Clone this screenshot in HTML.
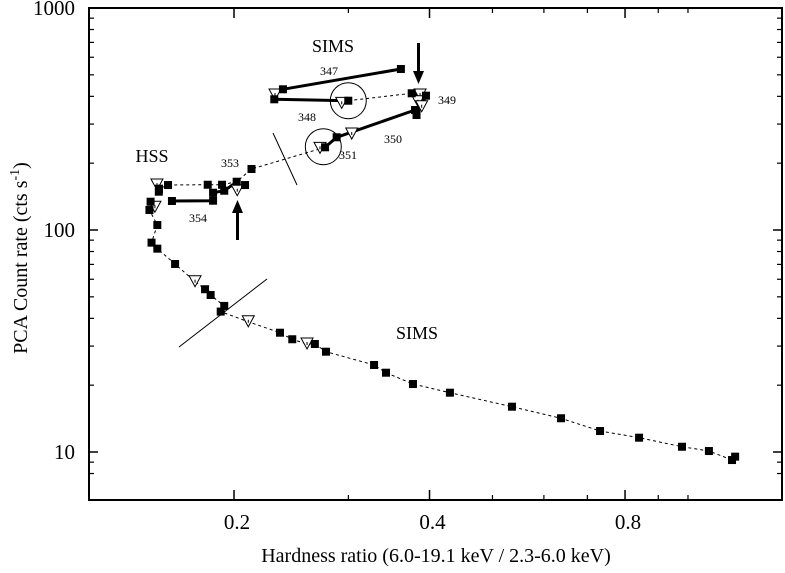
<!DOCTYPE html>
<html><head><meta charset="utf-8"><style>
html,body{margin:0;padding:0;background:#fff;}
svg{display:block;font-family:"Liberation Serif",serif;}
</style></head><body>
<svg id="chart" width="785" height="573" viewBox="0 0 785 573" xmlns="http://www.w3.org/2000/svg"></svg>
<script>
const yTickValues=[10,100,1000];
const yTickLabels=["10","100","1000"];
const xTickValues=[0.2,0.4,0.8];
const xTickLabels=["0.2","0.4","0.8"];
const yMinor=[8,9,20,30,40,50,60,70,80,90,200,300,400,500,600,700,800,900];
const xMinor=[0.3,0.5,0.6,0.7,0.9,1.0];
const mainPathX=[0.2762,0.2128,0.2019,0.1917,0.1822,0.1583,0.1533,0.1532,0.1488,0.1482,0.1524,0.1493,0.1524,0.1623,0.1742,0.1805,0.1841,0.1932,0.1908,0.2104,0.2354,0.2459,0.2591,0.2664,0.2771,0.3286,0.3428,0.3772,0.430,0.5358,0.6376,0.7322,0.8408,0.979,1.077,1.169,1.182];
const mainPathY=[235.8,188.3,165.0,159.9,159.9,159.4,153.5,148.8,134.1,123.1,105.3,87.7,82.4,70.3,58.5,54.1,50.95,45.5,42.9,38.6,34.46,32.2,30.65,30.65,28.3,24.66,22.76,20.24,18.5,16.0,14.19,12.43,11.6,10.56,10.1,9.2,9.53];
const dot348X=[0.2999,0.3755];
const dot348Y=[382.3,412.9];
const orbit347X=[0.2379,0.3614];const orbit347Y=[430.4,531];
const orbit348X=[0.2307,0.2999];const orbit348Y=[387.9,382.3];
const orbit349X=[0.3755,0.395,0.382];const orbit349Y=[412.9,402.7,329.6];
const orbit350X=[0.380,0.2878,0.2762];const orbit350Y=[347.1,261.6,235.8];
const orbit354X=[0.1605,0.1857,0.1857,0.1932,0.2023];const orbit354Y=[135.1,135.5,147.2,150.3,165.0];
const squareX=[0.2128,0.208,0.2019,0.1917,0.1822,0.1583,0.1533,0.1532,0.1488,0.1482,0.1524,0.1493,0.1524,0.1623,0.1805,0.1841,0.1932,0.1908,0.2354,0.2459,0.2664,0.2771,0.3286,0.3428,0.3772,0.430,0.5358,0.6376,0.7322,0.8408,0.979,1.077,1.169,1.182,0.1605,0.1857,0.1857,0.1932,0.2379,0.3614,0.2307,0.2999,0.3755,0.395,0.382,0.380,0.2878,0.2762];
const squareY=[188.3,159.4,165.0,159.9,159.9,159.4,153.5,148.8,134.1,123.1,105.3,87.7,82.4,70.3,54.1,50.95,45.5,42.9,34.46,32.2,30.65,28.3,24.66,22.76,20.24,18.5,16.0,14.19,12.43,11.6,10.56,10.1,9.2,9.53,135.1,135.5,147.2,150.3,430.4,531,387.9,382.3,412.9,402.7,329.6,347.1,261.6,235.8];
const triX=[0.1522,0.1511,0.1742,0.2104,0.2591,0.2023,0.2313,0.293,0.3868,0.384,0.389,0.3036,0.2713];
const triY=[159.4,126.6,58.5,38.6,30.65,150.3,405.6,372.1,405.6,378.4,359.2,270.6,233.3];
const circleX=[0.2999,0.2745];
const circleY=[382.3,237.2];

const L=89,R=782,T=8,B=500;
function sx(v){return 234+649.5*Math.log10(v/0.2);}
function sy(v){return 8+222*(3-Math.log10(v));}
const svg=document.getElementById('chart');
const NS='http://www.w3.org/2000/svg';
function mk(tag,attrs,parent){const e=document.createElementNS(NS,tag);for(const k in attrs)e.setAttribute(k,attrs[k]);(parent||svg).appendChild(e);return e;}

const frame=mk('rect',{x:L,y:T,width:R-L,height:B-T,fill:'none',stroke:'#000','stroke-width':2});



yTickValues.forEach((v,i)=>{const y=sy(v);
 const t=mk('line',{x1:L,x2:L+9,y1:y,y2:y,stroke:'#000','stroke-width':1.5});
 
 
 const t2=mk('line',{x1:R-9,x2:R,y1:y,y2:y,stroke:'#000','stroke-width':1.5});
 
 
 const lb=mk('text',{x:75,y:y+7,'text-anchor':'end','font-size':21});
 lb.textContent=yTickLabels[i];
 
 
});
yMinor.forEach(v=>{const y=sy(v);
 const t=mk('line',{x1:L,x2:L+5,y1:y,y2:y,stroke:'#000','stroke-width':1.2});
 
 
 const t2=mk('line',{x1:R-5,x2:R,y1:y,y2:y,stroke:'#000','stroke-width':1.2});
 
 
});
xTickValues.forEach((v,i)=>{const x=sx(v);
 const t=mk('line',{x1:x,x2:x,y1:B-10,y2:B,stroke:'#000','stroke-width':1.5});
 
 
 const t2=mk('line',{x1:x,x2:x,y1:T,y2:T+10,stroke:'#000','stroke-width':1.5});
 
 
 const lb=mk('text',{x:x+3,y:529,'text-anchor':'middle','font-size':21});
 lb.textContent=xTickLabels[i];
 
 
});
xMinor.forEach(v=>{const x=sx(v);
 const t=mk('line',{x1:x,x2:x,y1:B-5,y2:B,stroke:'#000','stroke-width':1.2});
 
 
 const t2=mk('line',{x1:x,x2:x,y1:T,y2:T+5,stroke:'#000','stroke-width':1.2});
 
 
});

function poly(xs,ys,attrs,name){const pts=xs.map((x,i)=>sx(x).toFixed(1)+','+sy(ys[i]).toFixed(1)).join(' ');
 const p=mk('polyline',Object.assign({points:pts,fill:'none',stroke:'#000'},attrs));
 
 }
poly(mainPathX,mainPathY,{'stroke-width':1,'stroke-dasharray':'3,3'},'dotted-track');
poly(dot348X,dot348Y,{'stroke-width':1,'stroke-dasharray':'3,3'},'dotted-track-348');
poly(orbit347X,orbit347Y,{'stroke-width':3},'orbit-347-line');
poly(orbit348X,orbit348Y,{'stroke-width':3},'orbit-348-line');
poly(orbit349X,orbit349Y,{'stroke-width':3},'orbit-349-line');
poly(orbit350X,orbit350Y,{'stroke-width':3},'orbit-350-line');
poly(orbit354X,orbit354Y,{'stroke-width':3},'orbit-354-line');

circleX.forEach((v,i)=>{
 const c=mk('circle',{cx:sx(v),cy:sy(circleY[i]),r:18,fill:'none',stroke:'#000','stroke-width':1});
 
 
});
triX.forEach((v,i)=>{const x=sx(v),y=sy(triY[i]);
 const p=mk('polygon',{points:`${x-6},${y-6} ${x+6},${y-6} ${x},${y+5}`,fill:'#fff',stroke:'#000','stroke-width':1});
 
 
 const d=mk('line',{x1:x,x2:x,y1:y-2,y2:y+1,stroke:'#000','stroke-width':1});
 
 
});
squareX.forEach((v,i)=>{const x=sx(v),y=sy(squareY[i]);
 const r=mk('rect',{x:x-4,y:y-4,width:8,height:8,fill:'#000'});
 
 
});

function line(x1,y1,x2,y2,w,name){const l=mk('line',{x1,y1,x2,y2,stroke:'#000','stroke-width':w});
 
 }
line(179,347,267,279,1,'transition-line-lower');
line(273,133,297,185,1,'transition-line-upper');
line(237.5,240,237.5,212,3,'arrow-up-shaft');
const a1=mk('polygon',{points:'232,213 243,213 237.5,200',fill:'#000'});


line(418.5,43,418.5,72,3,'arrow-down-shaft');
const a2=mk('polygon',{points:'413,71 424,71 418.5,84',fill:'#000'});



function txt(x,y,s,size,name,anchor){const t=mk('text',{x,y,'font-size':size,'text-anchor':anchor||'middle'});
 t.textContent=s;
 
 return t;}
txt(333,52,'SIMS',18,'sims-label-top');
txt(152,162,'HSS',18,'hss-label');
txt(417,339,'SIMS',18,'sims-label-bottom');
txt(329,75,'347',12,'orbit-347-label');
txt(307,121,'348',12,'orbit-348-label');
txt(447,104,'349',12,'orbit-349-label');
txt(393,143,'350',12,'orbit-350-label');
txt(348,159,'351',12,'orbit-351-label');
txt(230,167,'353',12,'orbit-353-label');
txt(198,222,'354',12,'orbit-354-label');
txt(436,562,'Hardness ratio (6.0-19.1 keV / 2.3-6.0 keV)',20,'x-axis-title');
const yt=mk('text',{x:0,y:0,'font-size':20,'text-anchor':'middle',transform:'translate(27,258) rotate(-90)'});


yt.innerHTML='PCA Count rate (cts s<tspan dy="-8" font-size="14">-1</tspan><tspan dy="8">)</tspan>';
</script>
</body></html>
